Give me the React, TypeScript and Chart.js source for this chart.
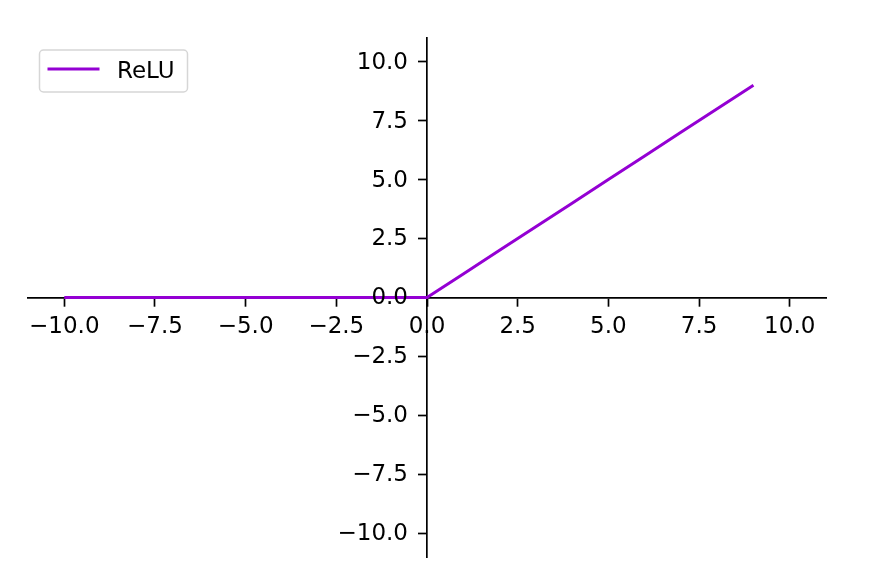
import React, { useEffect, useRef } from "react";
import { Chart, registerables } from "chart.js";

Chart.register(...registerables);

// Data
const seriesLabel = "ReLU";
const xValues = [-10, -9, -8, -7, -6, -5, -4, -3, -2, -1, 0, 1, 2, 3, 4, 5, 6, 7, 8, 9];
const reluValues = [0, 0, 0, 0, 0, 0, 0, 0, 0, 0, 0, 1, 2, 3, 4, 5, 6, 7, 8, 9];
const xTicks = [-10, -7.5, -5, -2.5, 0, 2.5, 5, 7.5, 10];
const yTicks = [-10, -7.5, -5, -2.5, 0, 2.5, 5, 7.5, 10];
const axisMin = -11;
const axisMax = 11;

const LINE_COLOR = "#9400D3";
const FONT_FAMILY = "'DejaVu Sans', sans-serif";
const FONT_SIZE = 23;
const TICK_LEN = 8;
const AXIS_W = 1.7;

const fmt = (v: number) => {
  const s = Number(v).toFixed(1);
  return s.startsWith("-") ? "\u2212" + s.slice(1) : s;
};

// y tick labels placed left of the centred y spine (Chart.js ignores padding for object-positioned axes)
const yLabelPlugin = {
  id: "yCenterLabels",
  afterDraw(chart: any) {
    const { ctx } = chart;
    const xs = chart.scales.x;
    const ys = chart.scales.y;
    const axisX = xs.getPixelForValue(0);
    ctx.save();
    ctx.fillStyle = "#000";
    ctx.font = `${FONT_SIZE}px ${FONT_FAMILY}`;
    ctx.textAlign = "right";
    ctx.textBaseline = "middle";
    yTicks.forEach((v) => {
      ctx.fillText(fmt(v), axisX - TICK_LEN - 11, ys.getPixelForValue(v) + 1);
    });
    ctx.restore();
  },
};

const legendPlugin = {
  id: "mplLegend",
  afterDraw(chart: any) {
    const { ctx, chartArea } = chart;
    const x = chartArea.left + 11.5;
    const y = chartArea.top + 12;
    const w = 148;
    const h = 42;
    const r = 4;
    ctx.save();
    ctx.beginPath();
    ctx.moveTo(x + r, y);
    ctx.lineTo(x + w - r, y);
    ctx.arcTo(x + w, y, x + w, y + r, r);
    ctx.lineTo(x + w, y + h - r);
    ctx.arcTo(x + w, y + h, x + w - r, y + h, r);
    ctx.lineTo(x + r, y + h);
    ctx.arcTo(x, y + h, x, y + h - r, r);
    ctx.lineTo(x, y + r);
    ctx.arcTo(x, y, x + r, y, r);
    ctx.closePath();
    ctx.fillStyle = "rgba(255,255,255,0.8)";
    ctx.fill();
    ctx.strokeStyle = "#d6d6d6";
    ctx.lineWidth = 1.5;
    ctx.stroke();
    ctx.beginPath();
    ctx.moveTo(x + 8, y + 19);
    ctx.lineTo(x + 60, y + 19);
    ctx.strokeStyle = LINE_COLOR;
    ctx.lineWidth = 3;
    ctx.stroke();
    ctx.fillStyle = "#000";
    ctx.font = `${FONT_SIZE}px ${FONT_FAMILY}`;
    ctx.textBaseline = "alphabetic";
    ctx.textAlign = "left";
    ctx.fillText(seriesLabel, x + 77.5, y + 27.5);
    ctx.restore();
  },
};

export default function App() {
  const canvasRef = useRef<HTMLCanvasElement | null>(null);

  useEffect(() => {
    if (!canvasRef.current) return;
    const data = xValues.map((x, i) => ({ x, y: reluValues[i] }));
    const chart = new Chart(canvasRef.current, {
      type: "line",
      data: {
        datasets: [
          {
            label: seriesLabel,
            data,
            borderColor: LINE_COLOR,
            backgroundColor: LINE_COLOR,
            borderWidth: 3,
            pointRadius: 0,
            tension: 0,
            fill: false,
          },
        ],
      },
      options: {
        animation: false,
        responsive: false,
        maintainAspectRatio: false,
        layout: { padding: { left: 28, right: 53, top: 38, bottom: 28 } },
        plugins: {
          legend: { display: false },
          tooltip: { enabled: false },
        },
        scales: {
          x: {
            type: "linear",
            position: { y: 0 } as any,
            min: axisMin,
            max: axisMax,
            afterBuildTicks: (scale: any) => {
              scale.ticks = xTicks.map((v) => ({ value: v }));
            },
            grid: {
              display: true,
              drawOnChartArea: false,
              drawTicks: true,
              tickLength: TICK_LEN,
              tickWidth: AXIS_W,
              tickColor: "#000",
            },
            border: { display: true, color: "#000", width: AXIS_W },
            ticks: {
              color: "#000",
              font: { family: FONT_FAMILY, size: FONT_SIZE },
              padding: 8,
              maxRotation: 0,
              autoSkip: false,
              callback: (v: any) => fmt(v),
            },
          },
          y: {
            type: "linear",
            position: { x: 0 } as any,
            min: axisMin,
            max: axisMax,
            afterBuildTicks: (scale: any) => {
              scale.ticks = yTicks.map((v) => ({ value: v }));
            },
            grid: {
              display: true,
              drawOnChartArea: false,
              drawTicks: true,
              tickLength: TICK_LEN,
              tickWidth: AXIS_W,
              tickColor: "#000",
            },
            border: { display: true, color: "#000", width: AXIS_W },
            ticks: {
              display: false,
              autoSkip: false,
            },
          },
        },
      },
      plugins: [yLabelPlugin, legendPlugin],
    });
    return () => chart.destroy();
  }, []);

  return (
    <div style={{ position: "fixed", left: 0, top: 0, width: 879, height: 585, background: "#fff" }}>
      <canvas ref={canvasRef} width={879} height={585} style={{ display: "block", width: 879, height: 585 }} />
    </div>
  );
}
